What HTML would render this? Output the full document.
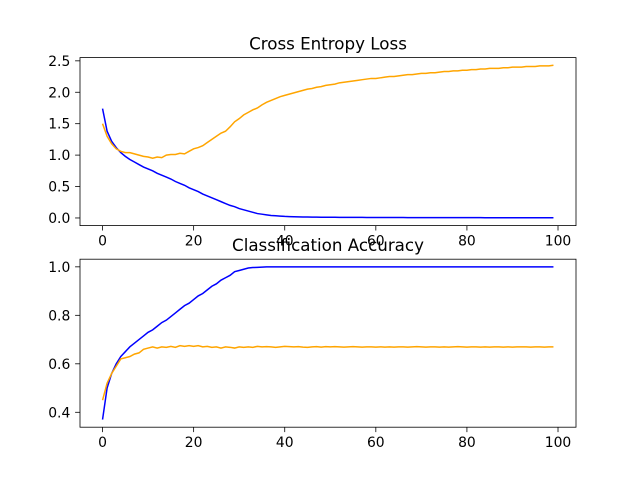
<!DOCTYPE html>
<html><head><meta charset="utf-8"><style>
html,body{margin:0;padding:0;background:#fff;}
svg{display:block;font-family:"DejaVu Sans","Liberation Sans",sans-serif;}
</style></head><body>
<svg id="fig" width="640" height="480" viewBox="0 0 640 480"></svg>
<script>
const epochs = Array.from({length:100},(_,i)=>i);
const lossTrain = [1.74,1.38,1.22,1.12,1.04,0.98,0.93,0.89,0.85,0.81,0.78,0.75,0.71,0.68,0.65,0.62,0.58,0.55,0.52,0.48,0.45,0.42,0.38,0.35,0.32,0.29,0.26,0.23,0.20,0.18,0.15,0.13,0.11,0.09,0.07,0.06,0.05,0.04,0.035,0.03,0.025,0.022,0.02,0.018,0.016,0.015,0.014,0.013,0.012,0.012,0.011,0.011,0.01,0.01,0.01,0.009,0.009,0.009,0.008,0.008,0.008,0.008,0.007,0.007,0.007,0.007,0.007,0.006,0.006,0.006,0.006,0.006,0.006,0.006,0.005,0.005,0.005,0.005,0.005,0.005,0.005,0.005,0.005,0.005,0.004,0.004,0.004,0.004,0.004,0.004,0.004,0.004,0.004,0.004,0.004,0.004,0.004,0.004,0.004,0.004];
const lossTest = [1.50,1.30,1.18,1.10,1.06,1.04,1.04,1.02,1.00,0.98,0.97,0.95,0.97,0.96,1.00,1.01,1.01,1.03,1.02,1.06,1.10,1.12,1.15,1.20,1.25,1.30,1.35,1.38,1.45,1.53,1.58,1.64,1.68,1.72,1.75,1.80,1.84,1.87,1.90,1.93,1.95,1.97,1.99,2.01,2.03,2.05,2.06,2.08,2.09,2.11,2.12,2.13,2.15,2.16,2.17,2.18,2.19,2.20,2.21,2.22,2.22,2.23,2.24,2.25,2.25,2.26,2.27,2.28,2.28,2.29,2.30,2.30,2.31,2.31,2.32,2.33,2.33,2.34,2.34,2.35,2.35,2.36,2.36,2.37,2.37,2.38,2.38,2.38,2.39,2.39,2.40,2.40,2.40,2.41,2.41,2.41,2.42,2.42,2.42,2.43];
const accTrain = [0.37,0.50,0.56,0.60,0.63,0.65,0.67,0.685,0.70,0.715,0.73,0.74,0.755,0.77,0.78,0.795,0.81,0.825,0.84,0.85,0.865,0.88,0.89,0.905,0.92,0.93,0.945,0.955,0.965,0.98,0.985,0.99,0.995,0.997,0.998,0.999,1,1,1,1,1,1,1,1,1,1,1,1,1,1,1,1,1,1,1,1,1,1,1,1,1,1,1,1,1,1,1,1,1,1,1,1,1,1,1,1,1,1,1,1,1,1,1,1,1,1,1,1,1,1,1,1,1,1,1,1,1,1,1,1];
const accTest = [0.45,0.52,0.56,0.59,0.62,0.625,0.63,0.64,0.645,0.66,0.665,0.67,0.665,0.67,0.668,0.672,0.668,0.675,0.672,0.675,0.672,0.675,0.67,0.672,0.668,0.67,0.665,0.67,0.668,0.665,0.67,0.668,0.67,0.668,0.672,0.67,0.671,0.67,0.668,0.67,0.672,0.671,0.67,0.671,0.669,0.668,0.67,0.671,0.669,0.671,0.67,0.671,0.67,0.669,0.67,0.671,0.67,0.669,0.67,0.67,0.669,0.67,0.669,0.67,0.669,0.67,0.67,0.669,0.67,0.671,0.67,0.669,0.67,0.67,0.669,0.67,0.669,0.67,0.671,0.67,0.669,0.67,0.67,0.669,0.67,0.669,0.67,0.67,0.669,0.67,0.669,0.67,0.67,0.67,0.669,0.67,0.67,0.669,0.67,0.67];
const xTicks = [0,20,40,60,80,100];
const lossTicks = ["0.0","0.5","1.0","1.5","2.0","2.5"];
const accTicks = ["0.4","0.6","0.8","1.0"];

const NS="http://www.w3.org/2000/svg";
const svg=document.getElementById('fig');
function mk(tag,attrs,parent){const e=document.createElementNS(NS,tag);for(const k in attrs)e.setAttribute(k,attrs[k]);(parent||svg).appendChild(e);return e;}
const L=80,R=576,xMin=-4.95,xMax=103.95;
function xs(v){return L+(v-xMin)/(xMax-xMin)*(R-L);}

function panel(name,top,bottom,yMin,yMax,yTicks,title,s1,s2){
  const g=mk('g',{});
  
  
  const ys=v=>bottom-(v-yMin)/(yMax-yMin)*(bottom-top);
  const t=mk('text',{x:328,y:top-8.3,'text-anchor':'middle','font-size':'16.7'},g);
  t.textContent=title;
  
  
  xTicks.forEach(v=>{const x=xs(v);
    mk('line',{x1:x,x2:x,y1:bottom,y2:bottom+4.9,stroke:'#000','stroke-width':0.8},g);
    const tx=mk('text',{x:x,y:bottom+20,'text-anchor':'middle','font-size':'13.9'},g);tx.textContent=v;
    
    });
  yTicks.forEach(s=>{const y=ys(parseFloat(s));
    mk('line',{x1:L-4.9,x2:L,y1:y,y2:y,stroke:'#000','stroke-width':0.8},g);
    const ty=mk('text',{x:L-9.7,y:y+5,'text-anchor':'end','font-size':'13.9'},g);ty.textContent=s;
    
    });
  [[s1,'blue','train-line'],[s2,'orange','test-line']].forEach(([d,c,n])=>{
    const p=mk('polyline',{points:d.map((v,i)=>xs(epochs[i]).toFixed(2)+','+ys(v).toFixed(2)).join(' '),fill:'none',stroke:c,'stroke-width':1.5},g);
    
    });
  const fr=mk('rect',{x:L,y:top,width:R-L,height:bottom-top,fill:'none',stroke:'#000','stroke-width':0.8},g);
  
  
}
panel('loss-panel',57.6,225.6,-0.1215,2.5515,lossTicks,'Cross Entropy Loss',lossTrain,lossTest);
panel('accuracy-panel',259.2,427.2,0.3385,1.0315,accTicks,'Classification Accuracy',accTrain,accTest);
</script>
</body></html>
